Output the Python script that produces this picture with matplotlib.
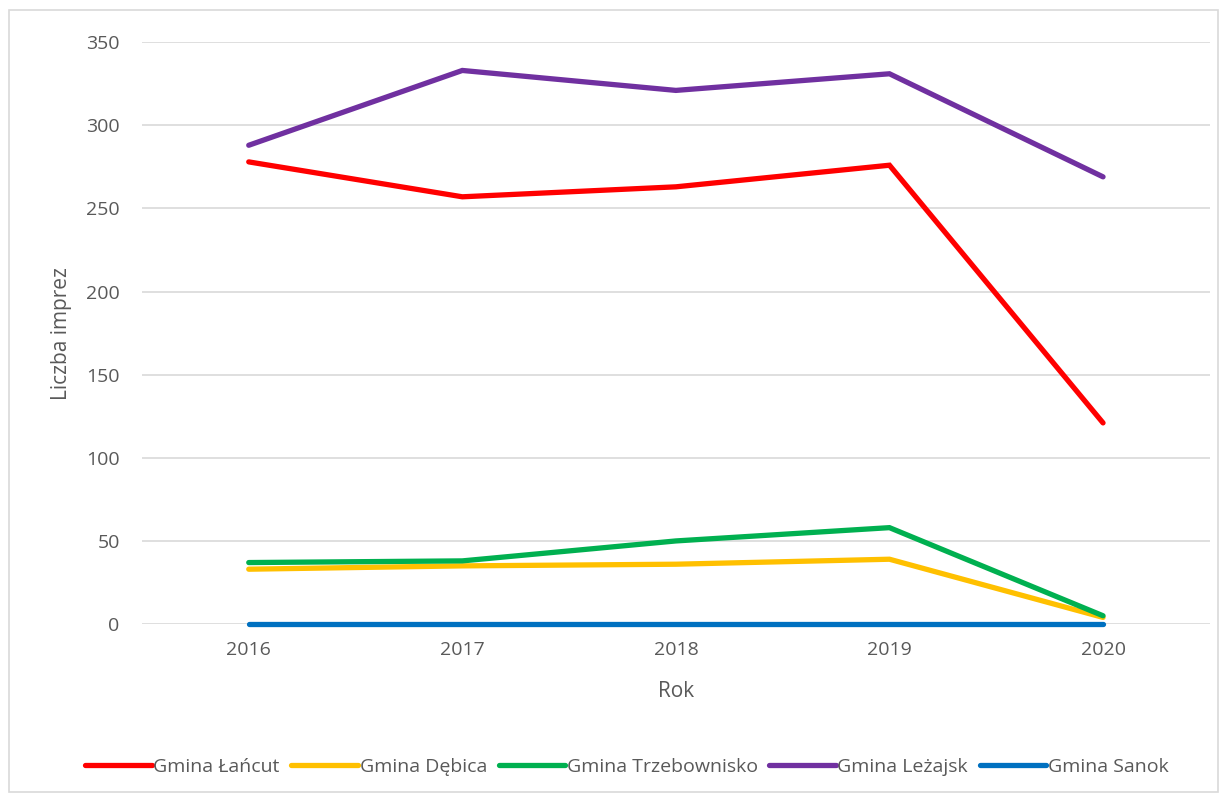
import matplotlib.pyplot as plt
from matplotlib.patches import Rectangle

plt.rcParams['font.family'] = ['Open Sans', 'DejaVu Sans']

lata = ['2016', '2017', '2018', '2019', '2020']
lancut = [278, 257, 263, 276, 121]
debica = [33, 35, 36, 39, 4]
trzebownisko = [37, 38, 50, 58, 5]
lezajsk = [288, 333, 321, 331, 269]
sanok = [0, 0, 0, 0, 0]

serie = [
    ('Gmina Łańcut', lancut, '#FF0000'),
    ('Gmina Dębica', debica, '#FFC000'),
    ('Gmina Trzebownisko', trzebownisko, '#00B050'),
    ('Gmina Leżajsk', lezajsk, '#7030A0'),
    ('Gmina Sanok', sanok, '#0070C0'),
]

txt = '#595959'
fig = plt.figure(figsize=(12.27, 7.96), dpi=100)
ax = fig.add_axes([0.1157, 0.216, 0.8703, 0.731])

x = range(len(lata))
for nazwa, vals, kolor in serie:
    ax.plot(x, vals, color=kolor, lw=3.8, label=nazwa, solid_capstyle='round',
            solid_joinstyle='miter', clip_on=False)

ax.set_xlim(-0.5, 4.5)
ax.set_ylim(0, 350)
ax.set_yticks(range(0, 351, 50))
ax.set_xticks(list(x))
ax.set_xticklabels(lata)
ax.grid(axis='y', color='#d9d9d9', lw=1.2)
ax.set_axisbelow(True)
for s in ax.spines.values():
    s.set_visible(False)
ax.tick_params(length=0, labelsize=14, colors=txt, pad=12)
ax.tick_params(axis='y', pad=16)
ax.set_ylabel('Liczba imprez', fontsize=15, color=txt, labelpad=10)
ax.set_xlabel('Rok', fontsize=15, color=txt, labelpad=16)

fig.legend(loc='center', bbox_to_anchor=(0.511, 0.037), ncol=5, frameon=False,
           fontsize=14, labelcolor=txt, handlelength=3.4, handletextpad=0.1,
           columnspacing=0.6)

fig.patches.append(Rectangle((0.007, 0.005), 0.986, 0.983, transform=fig.transFigure,
                             fill=False, edgecolor='#d9d9d9', lw=1.2))

fig.savefig('out.png', dpi=100)
